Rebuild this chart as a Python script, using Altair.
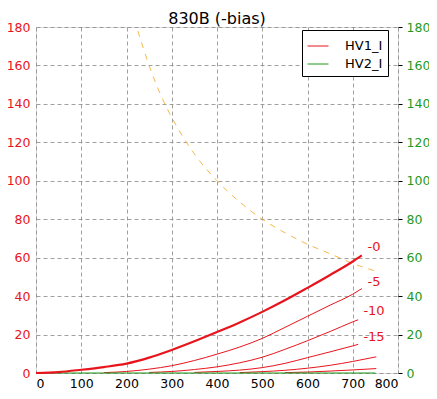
import altair as alt
import pandas as pd

RED = "#e8141c"
GREEN = "#1f9a1f"
ORANGE = "#f5b94a"

# HV1_I curves (plate current mA vs plate voltage V) for each grid bias
bias_names = ["-0", "-5", "-10", "-15", "-20", "-25"]
bias_x = [
    [0, 50, 100, 150, 200, 250, 300, 350, 400, 450, 500, 550, 600, 650, 700, 720],
    [150, 200, 250, 300, 350, 400, 450, 500, 550, 600, 650, 700, 720],
    [250, 300, 350, 400, 450, 500, 550, 600, 650, 700, 712],
    [350, 400, 450, 500, 550, 600, 650, 700, 712],
    [450, 500, 550, 600, 650, 700, 752],
    [550, 600, 650, 700, 752],
]
bias_y = [
    [0, 0.5, 1.7, 3.1, 4.9, 8, 12, 16.5, 21.3, 26.3, 31.8, 37.8, 44.3, 51, 58, 61.2],
    [0.2, 0.8, 2, 3.8, 6.5, 9.8, 13.5, 18, 23.7, 29.5, 35.3, 41, 43.9],
    [0.3, 0.8, 1.8, 3.2, 5.3, 8.2, 12.3, 16.8, 21.6, 26.6, 27.7],
    [0.3, 0.8, 1.5, 2.8, 5, 8, 11, 14.1, 14.9],
    [0.2, 0.7, 1.4, 2.5, 4, 6, 8.4],
    [0.2, 0.5, 1, 1.6, 2.3],
]

# HV2_I
hv2_x = [0, 100, 200, 300, 400, 500, 600, 700, 750]
hv2_y = [0, 0, 0, 0, 0, 0, 0, 0, 0]

# plate dissipation limit curve
pd_x = [225, 250, 275, 300, 350, 400, 450, 500, 550, 600, 650, 700, 750]
pd_y = [178, 160, 145, 133, 114, 100, 89, 80, 73, 67, 62, 57, 53]

# bias labels
lab_text = ["-0", "-5", "-10", "-15"]
lab_x = [747, 747, 747, 747]
lab_y = [65.8, 47.4, 32.1, 18.9]

rows = []
for name, xs_, ys_ in zip(bias_names[1:], bias_x[1:], bias_y[1:]):
    for x, y in zip(xs_, ys_):
        rows.append({"v": x, "i": y, "bias": name, "series": "HV1_I"})
for x, y in zip(hv2_x, hv2_y):
    rows.append({"v": x, "i": y, "bias": "hv2", "series": "HV2_I"})
df_thin = pd.DataFrame(rows)
df_thick = pd.DataFrame({"v": bias_x[0], "i": bias_y[0]})
df_pd = pd.DataFrame({"v": pd_x, "i": pd_y})
df_lab = pd.DataFrame({"v": lab_x, "i": lab_y, "t": lab_text})

xs = alt.Scale(domain=[0, 800], nice=False)
ys = alt.Scale(domain=[0, 180], nice=False)

x_enc = alt.X("v:Q", scale=xs, axis=alt.Axis(
    values=list(range(0, 801, 100)), title=None, grid=True, gridDash=[4, 3],
    gridColor="#888888", gridWidth=0.8, ticks=False, domain=False,
    labelColor="black", labelFontSize=12.5, labelPadding=4))
y_enc = alt.Y("i:Q", scale=ys, axis=alt.Axis(
    values=list(range(0, 181, 20)), title=None, grid=True, gridDash=[4, 3],
    gridColor="#888888", gridWidth=0.8, ticks=False, domain=False,
    labelColor=RED, labelFontSize=12.5, labelPadding=6))

thin = alt.Chart(df_thin).mark_line(strokeWidth=1, interpolate="monotone").encode(
    x=x_enc, y=y_enc,
    color=alt.Color("series:N",
                    scale=alt.Scale(domain=["HV1_I", "HV2_I"], range=[RED, GREEN]),
                    legend=alt.Legend(title=None, orient="none", legendX=266, legendY=3,
                                      strokeColor="black", fillColor="white",
                                      padding=5, rowPadding=-1, symbolType="stroke",
                                      symbolSize=440, symbolStrokeWidth=1,
                                      labelFontSize=13, labelOffset=16,
                                      labelColor="black")),
    detail="bias:N",
)
thick = alt.Chart(df_thick).mark_line(strokeWidth=2.2, color=RED,
                                      interpolate="monotone").encode(x=x_enc, y=y_enc)
pdl = alt.Chart(df_pd).mark_line(strokeWidth=1, color=ORANGE, strokeDash=[6, 6],
                                 interpolate="monotone").encode(x=x_enc, y=y_enc)
labels = alt.Chart(df_lab).mark_text(color=RED, fontSize=13, align="center",
                                     baseline="middle").encode(x=x_enc, y=y_enc, text="t:N")

left = alt.layer(pdl, thin, thick, labels)

right = alt.Chart(df_thick).mark_line(opacity=0).encode(
    x=alt.X("v:Q", scale=xs),
    y=alt.Y("i:Q", scale=ys, axis=alt.Axis(
        orient="right", values=list(range(0, 181, 20)), title=None, grid=False,
        ticks=True, tickSize=4, tickColor="black", domain=False,
        labelColor=GREEN, labelFontSize=12.5, labelPadding=4)),
)

chart = alt.layer(left, right).resolve_scale(y="independent").properties(
    width=362, height=346,
    title=alt.TitleParams("830B (-bias)", fontSize=16, fontWeight="normal",
                          anchor="middle", offset=-6, color="black"),
    autosize=alt.AutoSizeParams(type="none"),
    padding={"left": 28, "top": 19, "right": 31, "bottom": 17},
).configure_view(stroke="black", strokeWidth=1.2).configure(font="DejaVu Sans")

chart.save("out.html", embed_options={"renderer": "svg", "actions": False})
